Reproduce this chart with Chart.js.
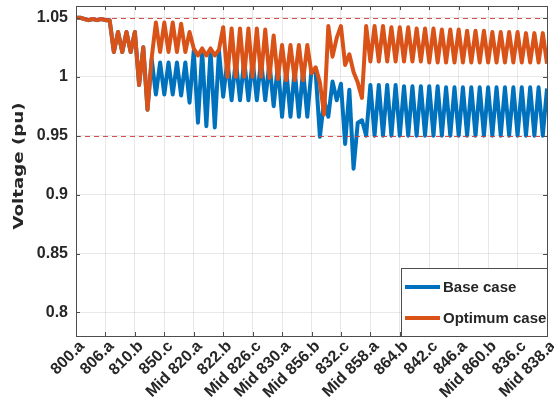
<!DOCTYPE html>
<html><head><meta charset="utf-8">
<script src="https://cdn.jsdelivr.net/npm/chart.js@4/dist/chart.umd.min.js"></script>
<style>html,body{margin:0;padding:0;background:#fff;}</style>
</head><body>
<canvas id="c" width="554" height="408"></canvas>
<script>
const tickLabels = ['800.a','806.a','810.b','850.c','Mid 820.a','822.b','Mid 826.c','Mid 830.a','Mid 856.b','832.c','Mid 858.a','864.b','842.c','846.a','Mid 860.b','836.c','Mid 838.a'];
const yTicks = [0.8, 0.85, 0.9, 0.95, 1, 1.05];
const limits = [1.05, 0.95];
const seriesNames = ['Base case', 'Optimum case'];

const baseCase = [
1.050,1.050,1.049,1.048,1.049,1.048,1.049,1.048,1.048,1.021,
1.038,1.021,1.038,1.021,1.038,0.993,1.025,0.972,1.015,0.985,
1.012,0.985,1.012,0.985,1.012,0.984,1.012,0.978,1.022,0.961,
1.022,0.958,1.022,0.957,1.022,0.983,1.014,0.980,1.014,0.980,
1.014,0.980,1.014,0.980,1.014,0.980,1.012,0.975,1.010,0.966,
1.006,0.966,1.006,0.966,1.006,0.966,1.006,1.003,0.949,0.980,
0.966,0.996,0.980,0.994,0.943,0.989,0.922,0.961,0.963,0.950,
0.993,0.950,0.993,0.950,0.993,0.950,0.993,0.950,0.992,0.950,
0.992,0.950,0.992,0.950,0.992,0.950,0.992,0.950,0.991,0.950,
0.991,0.950,0.991,0.950,0.991,0.950,0.991,0.950,0.991,0.950,
0.991,0.950,0.991,0.950,0.991,0.950,0.991,0.950,0.991,0.950,
0.991,0.950,0.990
];

const optimumCase = [
1.050,1.050,1.049,1.048,1.049,1.048,1.049,1.048,1.048,1.021,
1.038,1.021,1.038,1.021,1.038,0.993,1.025,0.972,1.016,1.046,
1.021,1.046,1.021,1.046,1.021,1.045,1.021,1.038,1.024,1.018,
1.024,1.018,1.024,1.018,1.023,1.042,1.000,1.041,1.000,1.041,
1.000,1.041,1.000,1.041,1.000,1.040,0.999,1.035,0.998,1.027,
0.997,1.027,0.997,1.027,0.997,1.027,1.003,1.008,0.995,0.968,
1.043,1.017,1.033,1.043,1.010,1.019,1.004,0.995,0.982,1.043,
1.013,1.043,1.013,1.043,1.013,1.042,1.013,1.042,1.013,1.042,
1.013,1.041,1.013,1.041,1.012,1.041,1.012,1.040,1.012,1.040,
1.012,1.040,1.012,1.039,1.012,1.039,1.012,1.039,1.012,1.038,
1.012,1.038,1.012,1.038,1.012,1.038,1.012,1.037,1.012,1.037,
1.012,1.037,1.011
];

const BLUE = '#0072BD';
const ORANGE = '#D95319';
const TEXT = '#262626';
const FONT = '"Liberation Sans", Arial, sans-serif';
const TFONT = '"DejaVu Sans", sans-serif';
const nPts = baseCase.length;
const tickStep = (nPts - 1) / (tickLabels.length - 1);

const toXY = arr => arr.map((v, i) => ({x: i, y: v}));

const decor = {
  id: 'decor',
  afterDatasetsDraw(chart) {
    const {ctx, chartArea: a, scales: {x, y}} = chart;
    ctx.save();
    ctx.strokeStyle = 'rgba(205,60,60,0.9)';
    ctx.lineWidth = 1.2;
    ctx.setLineDash([5, 4]);
    limits.forEach(v => {
      const py = Math.round(y.getPixelForValue(v)) + 0.5;
      ctx.beginPath(); ctx.moveTo(a.left, py); ctx.lineTo(a.right, py); ctx.stroke();
    });
    ctx.setLineDash([]);
    ctx.strokeStyle = '#4d4d4d';
    ctx.lineWidth = 1;
    ctx.strokeRect(Math.round(a.left) + 0.5, Math.round(a.top) + 0.5, Math.round(a.right - a.left), Math.round(a.bottom - a.top));
    ctx.beginPath();
    x.ticks.forEach(t => {
      const px = Math.round(x.getPixelForValue(t.value)) + 0.5;
      ctx.moveTo(px, a.bottom); ctx.lineTo(px, a.bottom - 4);
      ctx.moveTo(px, a.top); ctx.lineTo(px, a.top + 4);
    });
    y.ticks.forEach(t => {
      const py = Math.round(y.getPixelForValue(t.value)) + 0.5;
      ctx.moveTo(a.left, py); ctx.lineTo(a.left + 4, py);
      ctx.moveTo(a.right, py); ctx.lineTo(a.right - 4, py);
    });
    ctx.stroke();
    const bx = 401, bw = Math.round(a.right) - bx, by = 268, bh = Math.round(a.bottom) - by;
    ctx.fillStyle = '#fff';
    ctx.fillRect(bx, by, bw, bh);
    ctx.strokeStyle = '#4d4d4d';
    ctx.strokeRect(bx + 0.5, by + 0.5, bw, bh);
    const rows = [287, 318];
    chart.data.datasets.forEach((ds, k) => {
      const ry = rows[k];
      ctx.strokeStyle = ds.borderColor;
      ctx.lineWidth = 4;
      ctx.beginPath(); ctx.moveTo(bx + 4, ry); ctx.lineTo(bx + 39, ry); ctx.stroke();
      ctx.fillStyle = TEXT;
      ctx.font = 'bold 15px ' + FONT;
      ctx.textAlign = 'left';
      ctx.textBaseline = 'middle';
      ctx.fillText(ds.label, bx + 42, ry + 1);
    });
    ctx.restore();
  },
  afterDraw(chart) {
    const ctx = chart.ctx;
    ctx.save();
    ctx.translate(19, 166);
    ctx.rotate(-Math.PI / 2);
    ctx.scale(1.3, 1);
    ctx.fillStyle = TEXT;
    ctx.font = 'bold 14px ' + TFONT;
    ctx.textAlign = 'center';
    ctx.textBaseline = 'middle';
    ctx.fillText('Voltage (pu)', 0, 0);
    ctx.restore();
  }
};

new Chart(document.getElementById('c'), {
  type: 'line',
  data: {
    datasets: [
      {label: seriesNames[0], data: toXY(baseCase), borderColor: BLUE, backgroundColor: BLUE, borderWidth: 4, pointRadius: 0, tension: 0, order: 2, borderJoinStyle: 'round'},
      {label: seriesNames[1], data: toXY(optimumCase), borderColor: ORANGE, backgroundColor: ORANGE, borderWidth: 4, pointRadius: 0, tension: 0, order: 1, borderJoinStyle: 'round'}
    ]
  },
  options: {
    responsive: false,
    animation: false,
    devicePixelRatio: 1,
    layout: {padding: {top: 6, right: 7, left: 0, bottom: 0}},
    plugins: {legend: {display: false}, tooltip: {enabled: false}},
    scales: {
      x: {
        type: 'linear', min: 0, max: nPts - 1,
        afterBuildTicks: s => { s.ticks = tickLabels.map((_, k) => ({value: k * tickStep})); },
        afterFit: s => { s.height = 72; s.paddingLeft = 0; s.paddingRight = 0; },
        ticks: {autoSkip: false, minRotation: 45, maxRotation: 45, labelOffset: 6, padding: 1,
          color: TEXT, font: {family: FONT, size: 16, weight: 'bold'},
          callback: (v, i) => tickLabels[i]},
        grid: {color: 'rgba(0,0,0,0.09)', drawTicks: false},
        border: {display: false}
      },
      y: {
        type: 'linear', min: 0.78, max: 1.06,
        afterBuildTicks: s => { s.ticks = yTicks.map(v => ({value: v})); },
        afterFit: s => { s.width = 76; s.paddingTop = 0; s.paddingBottom = 0; },
        ticks: {padding: 8, color: TEXT, font: {family: FONT, size: 16, weight: 'bold'},
          callback: v => String(+Number(v).toFixed(2))},
        grid: {color: 'rgba(0,0,0,0.09)', drawTicks: false},
        border: {display: false}
      }
    }
  },
  plugins: [decor]
});
</script>
</body></html>
